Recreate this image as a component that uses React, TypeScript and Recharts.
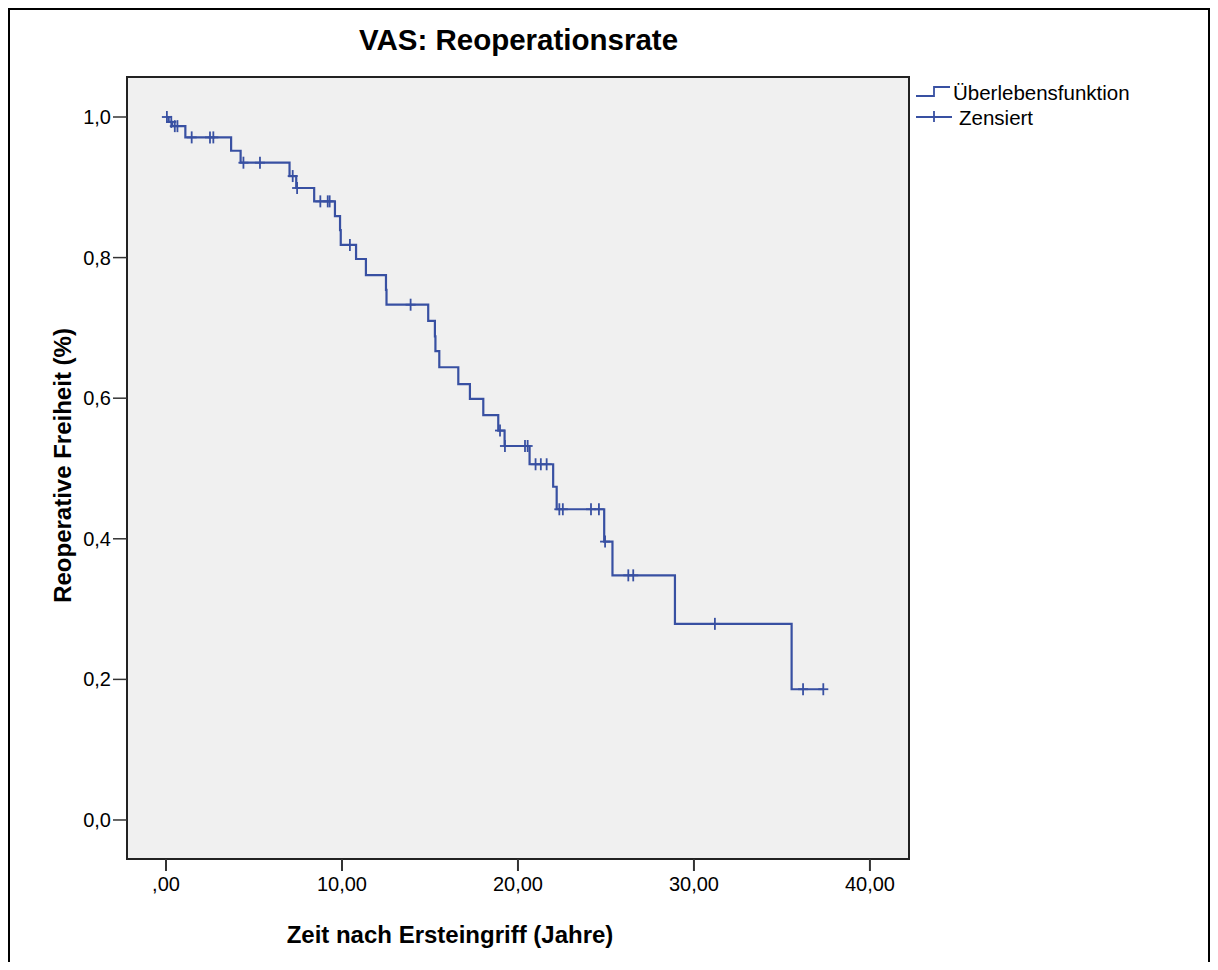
import React from 'react';
import {
  ComposedChart,
  Line,
  Scatter,
  XAxis,
  YAxis,
  ReferenceArea
} from 'recharts';

// Kaplan-Meier steps: time (years) and survival right after the step
const eventTimes = [0, 0.15, 0.35, 1.1, 3.7, 4.24, 7.02, 7.4, 8.42, 9.6, 9.89, 9.93, 10.8, 11.36, 12.5, 12.53, 14.9, 15.28, 15.31, 15.53, 16.61, 17.27, 18.03, 18.88, 19.24, 20.66, 22.0, 22.2, 24.9, 25.37, 28.92, 35.55, 37.35];
const survival = [1.0, 0.993, 0.987, 0.971, 0.952, 0.935, 0.916, 0.899, 0.88, 0.859, 0.839, 0.818, 0.798, 0.775, 0.754, 0.733, 0.71, 0.688, 0.667, 0.644, 0.62, 0.599, 0.576, 0.554, 0.532, 0.506, 0.474, 0.442, 0.396, 0.348, 0.279, 0.186, 0.186];

// censored cases
const censoredTimes = [0.05, 0.3, 0.5, 0.65, 1.46, 2.5, 2.69, 4.4, 5.34, 7.2, 7.45, 8.77, 9.19, 9.3, 10.45, 13.9, 18.98, 19.26, 20.4, 20.55, 21.0, 21.3, 21.63, 22.35, 22.55, 24.15, 24.6, 24.95, 26.27, 26.55, 31.19, 36.2, 37.35];
const censoredValues = [1.0, 0.993, 0.987, 0.987, 0.971, 0.971, 0.971, 0.935, 0.935, 0.916, 0.899, 0.88, 0.88, 0.88, 0.818, 0.733, 0.554, 0.532, 0.532, 0.532, 0.506, 0.506, 0.506, 0.442, 0.442, 0.442, 0.442, 0.396, 0.348, 0.348, 0.279, 0.186, 0.186];

const xTicks = [0, 10, 20, 30, 40];
const yTicks = [0, 0.2, 0.4, 0.6, 0.8, 1.0];

const X_DOMAIN: [number, number] = [-2.216, 42.22];
const Y_DOMAIN: [number, number] = [-0.0555, 1.0569];

const BLUE = '#3850A2';
const FONT = '"Liberation Sans", Arial, sans-serif';

const steps = eventTimes.map((t, i) => ({ t, s: survival[i] }));
const censored = censoredTimes.map((t, i) => ({ t, s: censoredValues[i] }));

const fmtX = (v: number) => (v === 0 ? ',00' : v.toFixed(2).replace('.', ','));
const fmtY = (v: number) => v.toFixed(1).replace('.', ',');

const PlusMark = (props: any) => {
  const { cx, cy } = props;
  if (cx == null || cy == null) return null;
  return (
    <g stroke={BLUE} strokeWidth={1.8}>
      <line x1={cx - 5} y1={cy} x2={cx + 5} y2={cy} />
      <line x1={cx} y1={cy - 6} x2={cx} y2={cy + 6} />
    </g>
  );
};

const App: React.FC = () => {
  return (
    <div
      style={{
        position: 'relative',
        width: 1202,
        height: 954,
        boxSizing: 'border-box',
        border: '2px solid #000',
        borderBottom: 'none',
        background: '#fff'
      }}
    >
      <div style={{ position: 'absolute', left: -2, top: -2 }}>
        <ComposedChart
          width={1202}
          height={954}
          margin={{ top: 69, right: 301, bottom: 53, left: 59 }}
        >
          <ReferenceArea
            x1={X_DOMAIN[0]}
            x2={X_DOMAIN[1]}
            y1={Y_DOMAIN[0]}
            y2={Y_DOMAIN[1]}
            fill="#F0F0F0"
            fillOpacity={1}
            stroke="#222"
            strokeWidth={2}
            ifOverflow="visible"
          />
          <XAxis
            type="number"
            dataKey="t"
            domain={X_DOMAIN}
            ticks={xTicks}
            allowDataOverflow
            tickFormatter={fmtX}
            axisLine={false}
            tickLine={{ stroke: '#333', strokeWidth: 2 }}
            tickSize={12}
            tickMargin={6}
            height={50}
            tick={{ fontFamily: FONT, fontSize: 20, fill: '#000' }}
          />
          <YAxis
            type="number"
            dataKey="s"
            domain={Y_DOMAIN}
            ticks={yTicks}
            allowDataOverflow
            tickFormatter={fmtY}
            axisLine={false}
            tickLine={{ stroke: '#333', strokeWidth: 1.5 }}
            tickSize={14}
            tickMargin={2}
            width={60}
            tick={{ fontFamily: FONT, fontSize: 20, fill: '#000' }}
          />
          <Line
            data={steps}
            type="stepAfter"
            dataKey="s"
            stroke={BLUE}
            strokeWidth={2.2}
            dot={false}
            activeDot={false}
            isAnimationActive={false}
          />
          <Scatter
            data={censored}
            dataKey="s"
            shape={PlusMark}
            isAnimationActive={false}
          />
        </ComposedChart>
      </div>
      <svg
        width={1202}
        height={954}
        style={{ position: 'absolute', left: -2, top: -2, pointerEvents: 'none' }}
      >
        <text x={510.5} y={42} textAnchor="middle" fontFamily={FONT} fontWeight="bold" fontSize={29.5} fill="#000">
          VAS: Reoperationsrate
        </text>
        <text x={442} y={935} textAnchor="middle" fontFamily={FONT} fontWeight="bold" fontSize={24} fill="#000">
          Zeit nach Ersteingriff (Jahre)
        </text>
        <text
          transform="translate(62.5, 457.5) rotate(-90)"
          textAnchor="middle"
          fontFamily={FONT}
          fontWeight="bold"
          fontSize={24}
          fill="#000"
        >
          Reoperative Freiheit (%)
        </text>
        {/* legend */}
        <path d="M908,88 H926 V79 H942" fill="none" stroke={BLUE} strokeWidth={1.8} />
        <text x={945} y={92} fontFamily={FONT} fontSize={20.5} fill="#000">Überlebensfunktion</text>
        <line x1={908} y1={109} x2={944} y2={109} stroke={BLUE} strokeWidth={1.8} />
        <line x1={926} y1={103} x2={926} y2={114} stroke={BLUE} strokeWidth={1.8} />
        <text x={951} y={117} fontFamily={FONT} fontSize={20.5} fill="#000">Zensiert</text>
      </svg>
    </div>
  );
};

export default App;
